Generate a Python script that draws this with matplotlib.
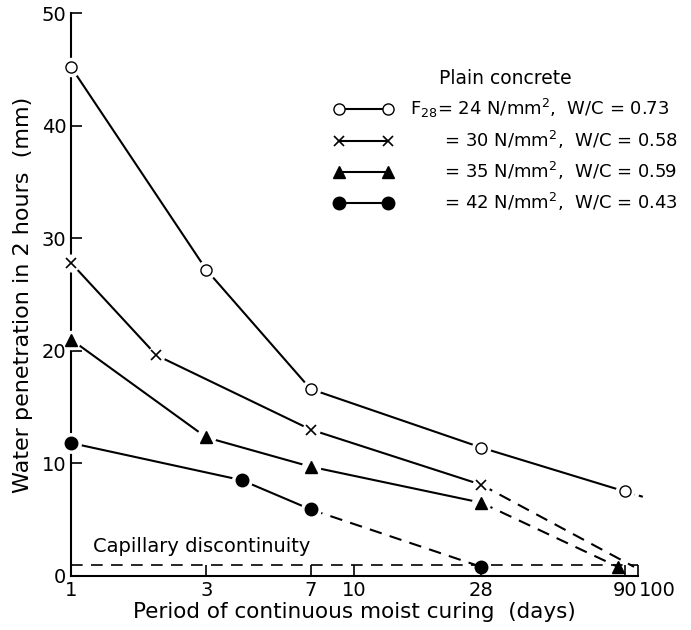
import matplotlib.pyplot as plt
from matplotlib.lines import Line2D
import matplotlib.transforms as mtransforms

# curing period (days) and water penetration (mm)
days_24 = [1, 3, 7, 28, 90]
pen_24 = [45.2, 27.2, 16.6, 11.4, 7.5]
tail_24 = ([90, 105], [7.5, 7.0])

days_30 = [1, 2, 7, 28]
pen_30 = [27.8, 19.6, 13.0, 8.1]
tail_30 = ([28, 97], [8.1, 0.8])

days_35 = [1, 3, 7, 28]
pen_35 = [21.0, 12.3, 9.7, 6.5]
tail_35 = ([28, 85], [6.5, 0.8])

days_42 = [1, 4, 7]
pen_42 = [11.8, 8.5, 5.9]
tail_42 = ([7, 28], [5.9, 0.8])

capillary_y = 1.0

labels = [r"F$_{28}$= 24 N/mm$^2$,  W/C = 0.73",
          r"      = 30 N/mm$^2$,  W/C = 0.58",
          r"      = 35 N/mm$^2$,  W/C = 0.59",
          r"      = 42 N/mm$^2$,  W/C = 0.43"]

xtick_vals = [1, 3, 7, 10, 28, 90, 100]

plt.rcParams['font.family'] = ['DejaVu Sans']
fig = plt.figure(figsize=(6.91, 6.30), dpi=100)
ax = fig.add_axes([0.103, 0.086, 0.82, 0.893])

lw = 1.5
ms = 8
styles = [
    (days_24, pen_24, tail_24, dict(marker='o', mfc='white', mec='black', ms=ms)),
    (days_30, pen_30, tail_30, dict(marker='x', mec='black', ms=ms - 1, mew=1.2)),
    (days_35, pen_35, tail_35, dict(marker='^', mfc='black', mec='black', ms=ms)),
    (days_42, pen_42, tail_42, dict(marker='o', mfc='black', mec='black', ms=ms + 1)),
]

handles = []
for i, (d, p, tail, mk) in enumerate(styles):
    dash = (5, (2, 2)) if i == 0 else (0, (6, 4))
    ax.plot(tail[0], tail[1], color='black', lw=lw, ls=dash, zorder=2,
            clip_on=False)
    ax.plot(d, p, color='black', lw=lw, zorder=2)
    # white halo so the lines stop short of the markers
    ax.plot(d, p, ls='none', marker='o', ms=mk['ms'] + 5, mfc='white',
            mec='white', zorder=3, clip_on=False)
    ax.plot(d, p, ls='none', zorder=4, clip_on=False, **mk)
    handles.append(Line2D([], [], color='black', lw=lw, **mk))

# end markers of the dashed tails
ax.plot(tail_35[0][1:], tail_35[1][1:], ls='none', zorder=4, **styles[2][3])
ax.plot(tail_42[0][1:], tail_42[1][1:], ls='none', zorder=4, **styles[3][3])

ax.plot([1, 100], [capillary_y, capillary_y], color='black', lw=1.2,
        ls=(0, (7, 5)), zorder=1)
ax.text(1.19, 2.1, "Capillary discontinuity", fontsize=14)

ax.set_xscale('log')
ax.set_xlim(1, 100)
ax.set_ylim(0, 50)
ax.set_xticks(xtick_vals)
ax.set_xticklabels([str(v) for v in xtick_vals])
ax.minorticks_off()
ax.set_yticks([0, 10, 20, 30, 40, 50])
ax.tick_params(direction='in', length=8, width=1.2, labelsize=14)
for s in ['top', 'right']:
    ax.spines[s].set_visible(False)
for s in ['left', 'bottom']:
    ax.spines[s].set_linewidth(1.5)

# "90" and "100" sit close together: push 100 to the right
lab100 = ax.get_xticklabels()[-1]
lab100.set_transform(lab100.get_transform() +
                     mtransforms.ScaledTranslation(0.2, 0, fig.dpi_scale_trans))

ax.set_xlabel("Period of continuous moist curing  (days)", fontsize=15.5, labelpad=2)
ax.set_ylabel("Water penetration in 2 hours  (mm)", fontsize=16, labelpad=6)

leg = fig.legend(handles, labels, numpoints=2, loc='upper left',
                 bbox_to_anchor=(0.47, 0.905), frameon=False, fontsize=13,
                 title="Plain concrete", title_fontsize=13.5,
                 borderpad=0, handlelength=3.3, handletextpad=0.9,
                 labelspacing=0.5)

fig.savefig('out.png', dpi=100)
